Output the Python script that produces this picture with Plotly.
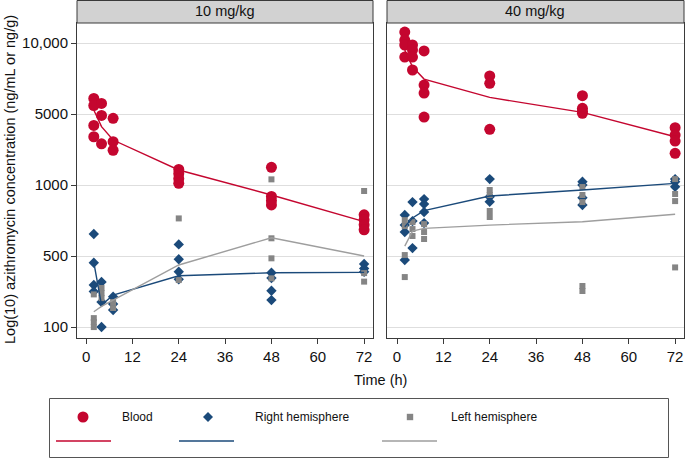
import plotly.graph_objects as go

# ---------------- data (log10 concentration units) ----------------
PANELS = ["10 mg/kg", "40 mg/kg"]
MEAN_TIMES = [2, 4, 7, 24, 48, 72]
X_TICKS = [0, 12, 24, 36, 48, 60, 72]
Y_TICKVALS = [2, 2.5, 3, 3.5, 4]
Y_TICKTEXT = ["100", "500", "1000", "5000", "10,000"]
SERIES = ["Blood", "Right hemisphere", "Left hemisphere"]

# 10 mg/kg
blood10_t = [2, 2, 2, 2, 4, 4, 4, 7, 7, 7, 24, 24, 24, 24, 48, 48, 48, 48, 72, 72, 72, 72]
blood10_v = [3.61, 3.56, 3.42, 3.34, 3.575, 3.49, 3.29, 3.47, 3.305, 3.245,
             3.11, 3.08, 3.045, 3.012, 3.125, 2.92, 2.89, 2.86, 2.79, 2.755, 2.72, 2.685]
blood10_mean = [3.528, 3.411, 3.317, 3.106, 2.930, 2.742]

rh10_t = [2, 2, 2, 2, 4, 4, 4, 7, 7, 7, 24, 24, 24, 24, 48, 48, 48, 48, 72, 72, 72]
rh10_v = [2.655, 2.453, 2.296, 2.251, 2.317, 2.176, 2.0, 2.213, 2.162, 2.12,
          2.582, 2.477, 2.389, 2.336, 2.382, 2.345, 2.256, 2.19, 2.444, 2.413, 2.389]
rh10_mean = [2.456, 2.155, 2.225, 2.361, 2.382, 2.385]

lh10_t = [2, 2, 2, 2, 4, 4, 4, 7, 7, 24, 24, 48, 48, 48, 48, 72, 72, 72]
lh10_v = [2.23, 2.063, 2.035, 2.0, 2.275, 2.239, 2.204, 2.176, 2.134,
          2.765, 2.331, 3.04, 2.625, 2.484, 2.343, 2.958, 2.38, 2.32]
lh10_mean = [2.108, 2.145, 2.19, 2.437, 2.629, 2.5]

# 40 mg/kg
blood40_t = [2, 2, 2, 2, 4, 4, 4, 4, 7, 7, 7, 7, 24, 24, 24, 48, 48, 48, 48, 72, 72, 72, 72]
blood40_v = [4.077, 4.021, 3.986, 3.901, 3.986, 3.951, 3.901, 3.81, 3.944, 3.704, 3.648, 3.479,
             3.768, 3.716, 3.392, 3.629, 3.54, 3.52, 3.505, 3.404, 3.352, 3.31, 3.223]
blood40_mean = [3.95, 3.833, 3.746, 3.617, 3.512, 3.34]

rh40_t = [2, 2, 2, 2, 4, 4, 4, 7, 7, 7, 7, 24, 24, 24, 48, 48, 48, 48, 72, 72, 72]
rh40_v = [2.789, 2.718, 2.669, 2.472, 2.88, 2.746, 2.556, 2.901, 2.866, 2.81, 2.732,
          3.042, 2.918, 2.882, 3.023, 3.0, 2.911, 2.859, 3.042, 3.023, 2.988]
rh40_mean = [2.706, 2.768, 2.82, 2.923, 2.965, 3.012]

lh40_t = [2, 2, 2, 2, 4, 4, 4, 7, 7, 7, 24, 24, 24, 24, 48, 48, 48, 48, 48, 72, 72, 72, 72]
lh40_v = [2.753, 2.711, 2.507, 2.352, 2.739, 2.69, 2.641, 2.725, 2.669, 2.62,
          2.965, 2.93, 2.817, 2.775, 2.986, 2.93, 2.88, 2.289, 2.254, 3.042, 2.937, 2.887, 2.42]
lh40_mean = [2.57, 2.676, 2.695, 2.718, 2.742, 2.794]

# ---------------- styles ----------------
W, H = 685, 458
RED = "#C4062F"
BLUE = "#1B4A7A"
GRAY = "#858585"
GRAYLINE = "#9E9E9E"
FRAME = "#3A3A3A"
FONT = "Liberation Sans, Arial, Helvetica, sans-serif"
TXT = "#111111"

def px_x(p):
    return p / W

def px_y(p):
    return 1 - p / H

dom_x1 = [px_x(77), px_x(373)]
dom_x2 = [px_x(387), px_x(684)]
dom_y = [px_y(338), px_y(23)]

fig = go.Figure()

panel_data = [
    ("x", "y", blood10_t, blood10_v, blood10_mean, rh10_t, rh10_v, rh10_mean, lh10_t, lh10_v, lh10_mean),
    ("x2", "y2", blood40_t, blood40_v, blood40_mean, rh40_t, rh40_v, rh40_mean, lh40_t, lh40_v, lh40_mean),
]

for (xa, ya, bt, bv, bm, rt, rv, rm, lt, lv, lm) in panel_data:
    fig.add_trace(go.Scatter(x=bt, y=bv, mode="markers", xaxis=xa, yaxis=ya, showlegend=False,
                             name=SERIES[0],
                             marker=dict(symbol="circle", size=11, color=RED, line=dict(width=0))))
    fig.add_trace(go.Scatter(x=rt, y=rv, mode="markers", xaxis=xa, yaxis=ya, showlegend=False,
                             name=SERIES[1],
                             marker=dict(symbol="diamond", size=8, color=BLUE, line=dict(width=0))))
    fig.add_trace(go.Scatter(x=lt, y=lv, mode="markers", xaxis=xa, yaxis=ya, showlegend=False,
                             name=SERIES[2],
                             marker=dict(symbol="square", size=6, color=GRAY, line=dict(width=0))))
    fig.add_trace(go.Scatter(x=MEAN_TIMES, y=bm, mode="lines", xaxis=xa, yaxis=ya, showlegend=False,
                             line=dict(color=RED, width=1.4)))
    fig.add_trace(go.Scatter(x=MEAN_TIMES, y=rm, mode="lines", xaxis=xa, yaxis=ya, showlegend=False,
                             line=dict(color=BLUE, width=1.4)))
    fig.add_trace(go.Scatter(x=MEAN_TIMES, y=lm, mode="lines", xaxis=xa, yaxis=ya, showlegend=False,
                             line=dict(color=GRAYLINE, width=1.4)))

common_x = dict(tickvals=X_TICKS, ticks="outside", ticklen=5, tickwidth=1,
                tickcolor=FRAME, showline=True, linecolor=FRAME, linewidth=1, mirror=True,
                showgrid=False, zeroline=False, tickfont=dict(family=FONT, size=15, color=TXT))
common_y = dict(range=[1.923, 4.141], tickvals=Y_TICKVALS, ticktext=Y_TICKTEXT,
                showline=True, linecolor=FRAME, linewidth=1, mirror=True,
                showgrid=True, gridcolor="#DEDEDE", gridwidth=1, zeroline=False,
                tickfont=dict(family=FONT, size=15, color=TXT))

fig.update_layout(
    width=W, height=H,
    margin=dict(l=0, r=0, t=0, b=0),
    paper_bgcolor="white", plot_bgcolor="white",
    font=dict(family=FONT, size=14, color=TXT),
    xaxis=dict(domain=dom_x1, anchor="y", range=[-2.35, 74.3], **common_x),
    xaxis2=dict(domain=dom_x2, anchor="y2", range=[-2.6, 74.3], **common_x),
    yaxis=dict(domain=dom_y, anchor="x", ticks="outside", ticklen=5, tickwidth=1, tickcolor=FRAME,
               **common_y),
    yaxis2=dict(domain=dom_y, anchor="x2", ticks="", showticklabels=False, **common_y),
    showlegend=False,
)

shapes = []
annotations = []

# strip headers
for dom, label in zip([dom_x1, dom_x2], PANELS):
    shapes.append(dict(type="rect", xref="paper", yref="paper",
                       x0=dom[0], x1=dom[1], y0=dom_y[1], y1=px_y(0.5),
                       fillcolor="#D2D2D2", line=dict(color=FRAME, width=1), layer="above"))
    annotations.append(dict(text=label, xref="paper", yref="paper", x=(dom[0] + dom[1]) / 2,
                            y=px_y(11.5), showarrow=False, xanchor="center", yanchor="middle",
                            font=dict(family=FONT, size=14.5, color=TXT)))

# axis titles
annotations.append(dict(text="Time (h)", xref="paper", yref="paper", x=px_x(380), y=px_y(380),
                        showarrow=False, xanchor="center", yanchor="middle",
                        font=dict(family=FONT, size=14.5, color=TXT)))
annotations.append(dict(text="Log(10) azithromycin concentration (ng/mL or ng/g)", xref="paper",
                        yref="paper", x=px_x(10), y=px_y(180), showarrow=False, textangle=-90,
                        xanchor="center", yanchor="middle",
                        font=dict(family=FONT, size=14.5, color=TXT)))

# legend box
shapes.append(dict(type="rect", xref="paper", yref="paper", x0=px_x(49.5), x1=px_x(668.5),
                   y0=px_y(457.5), y1=px_y(398.5), line=dict(color="#555", width=1),
                   fillcolor="rgba(0,0,0,0)"))

def dot(cx, cy, r, color):
    return dict(type="circle", xref="paper", yref="paper", x0=px_x(cx - r), x1=px_x(cx + r),
                y0=px_y(cy + r), y1=px_y(cy - r), fillcolor=color, line=dict(width=0))

def diamond(cx, cy, r, color):
    return dict(type="path", xref="paper", yref="paper",
                path=f"M {px_x(cx)} {px_y(cy - r)} L {px_x(cx + r)} {px_y(cy)} "
                     f"L {px_x(cx)} {px_y(cy + r)} L {px_x(cx - r)} {px_y(cy)} Z",
                fillcolor=color, line=dict(width=0))

def square(cx, cy, r, color):
    return dict(type="rect", xref="paper", yref="paper", x0=px_x(cx - r), x1=px_x(cx + r),
                y0=px_y(cy + r), y1=px_y(cy - r), fillcolor=color, line=dict(width=0))

def hline(xa, xb, yy, color):
    return dict(type="line", xref="paper", yref="paper", x0=px_x(xa), x1=px_x(xb),
                y0=px_y(yy), y1=px_y(yy), line=dict(color=color, width=1.6))

shapes += [dot(83, 417, 5.5, RED), diamond(208, 417, 5, BLUE), square(410, 417, 3.2, GRAY),
           hline(56, 111, 441, RED), hline(179, 234, 441, BLUE), hline(382, 437, 441, GRAYLINE)]

for xt, lab in zip([120, 253, 449], SERIES):
    annotations.append(dict(text=lab, xref="paper", yref="paper", x=px_x(xt), y=px_y(417),
                            showarrow=False, xanchor="left", yanchor="middle",
                            font=dict(family=FONT, size=12, color=TXT)))

fig.update_layout(shapes=shapes, annotations=annotations)
fig.write_html("out.html", config={"displayModeBar": False},
               post_script="document.body.style.margin='0';document.body.style.padding='0';")
